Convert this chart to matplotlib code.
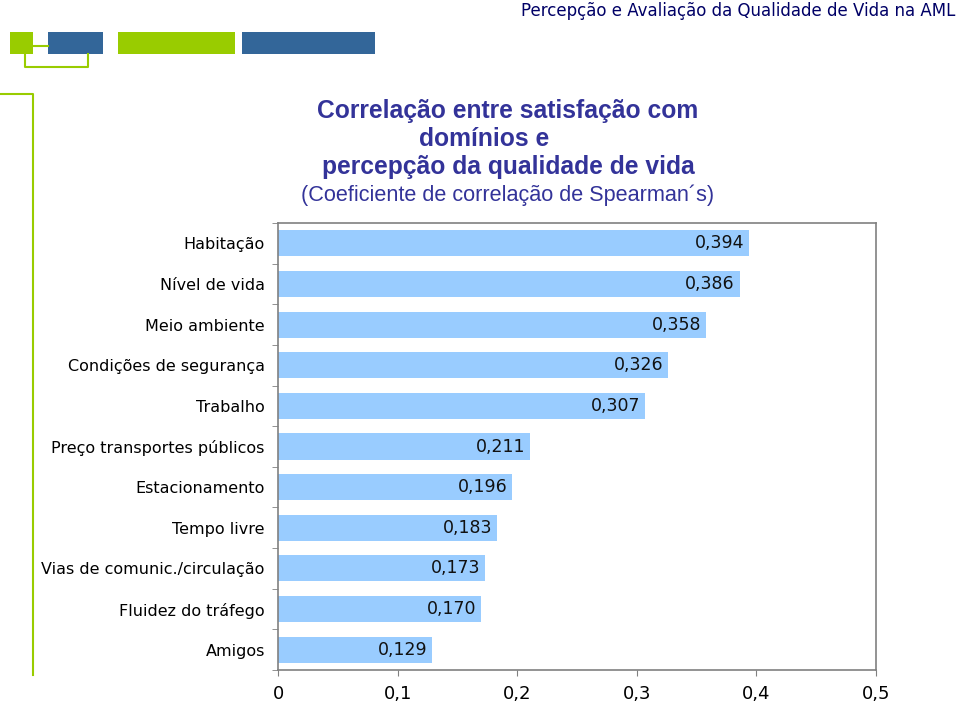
import matplotlib.pyplot as plt
from matplotlib.patches import Rectangle
from matplotlib.lines import Line2D

# data
domains = ["Habitação", "Nível de vida", "Meio ambiente", "Condições de segurança",
           "Trabalho", "Preço transportes públicos", "Estacionamento", "Tempo livre",
           "Vias de comunic./circulação", "Fluidez do tráfego", "Amigos"]
rho = [0.394, 0.386, 0.358, 0.326, 0.307, 0.211, 0.196, 0.183, 0.173, 0.170, 0.129]
xticks = [0, 0.1, 0.2, 0.3, 0.4, 0.5]

W, H = 959, 705
green = "#99CC00"
blue = "#336699"
title_col = "#333399"


def fx(px):
    return px / W


def fy(py):
    return 1 - py / H


fig = plt.figure(figsize=(W / 100, H / 100), dpi=100)

# header decorations
for x0, x1, col in [(10, 33, green), (48, 103, blue), (118, 235, green), (242, 375, blue)]:
    fig.patches.append(Rectangle((fx(x0), fy(54)), fx(x1) - fx(x0), fy(32) - fy(54),
                                 transform=fig.transFigure, color=col, lw=0))
for xs, ys in [([33, 48], [46, 46]), ([25, 25, 88, 88], [52, 67, 67, 54]),
               ([0, 33, 33], [94, 94, 675])]:
    fig.lines.append(Line2D([fx(x) for x in xs], [fy(y) for y in ys],
                            transform=fig.transFigure, color=green, lw=1.5))

fig.text(fx(955), fy(11), "Percepção e Avaliação da Qualidade de Vida na AML",
         ha="right", va="center", color="#000066", fontsize=12)

# titles
fig.text(fx(508), fy(139), "Correlação entre satisfação com\ndomínios e       \npercepção da qualidade de vida",
         ha="center", va="center", color=title_col, fontsize=17.7, fontweight="bold",
         family="Liberation Sans", linespacing=1.22)
fig.text(fx(508), fy(195), "(Coeficiente de correlação de Spearman´s)",
         ha="center", va="center", color=title_col, fontsize=15.6, family="Liberation Sans")

ax = fig.add_axes([fx(278), fy(670), fx(876) - fx(278), fy(223) - fy(670)])
pos = list(range(len(domains)))
ax.barh(pos, rho, height=0.64, color="#99CCFF")
for p, v in zip(pos, rho):
    ax.text(v - 0.004, p, f"{v:.3f}".replace(".", ","), ha="right", va="center",
            fontsize=12.5, color="#111111")

ax.set_ylim(len(domains) - 0.5, -0.5)
ax.set_xlim(0, 0.5)
ax.set_yticks(pos)
ax.set_yticklabels(domains, fontsize=11.5)
ax.set_yticks([p + 0.5 for p in pos[:-1]] + [-0.5, len(domains) - 0.5], minor=True)
ax.tick_params(axis="y", which="major", length=0, pad=9.5)
ax.tick_params(axis="y", which="minor", length=4, color="#808080")
ax.set_xticks(xticks)
ax.set_xticklabels([("%g" % t).replace(".", ",") for t in xticks], fontsize=13)
ax.tick_params(axis="x", length=4, color="#808080", pad=7)
for s in ax.spines.values():
    s.set_color("#808080")
    s.set_linewidth(1.2)

fig.savefig("out.png", dpi=100)
